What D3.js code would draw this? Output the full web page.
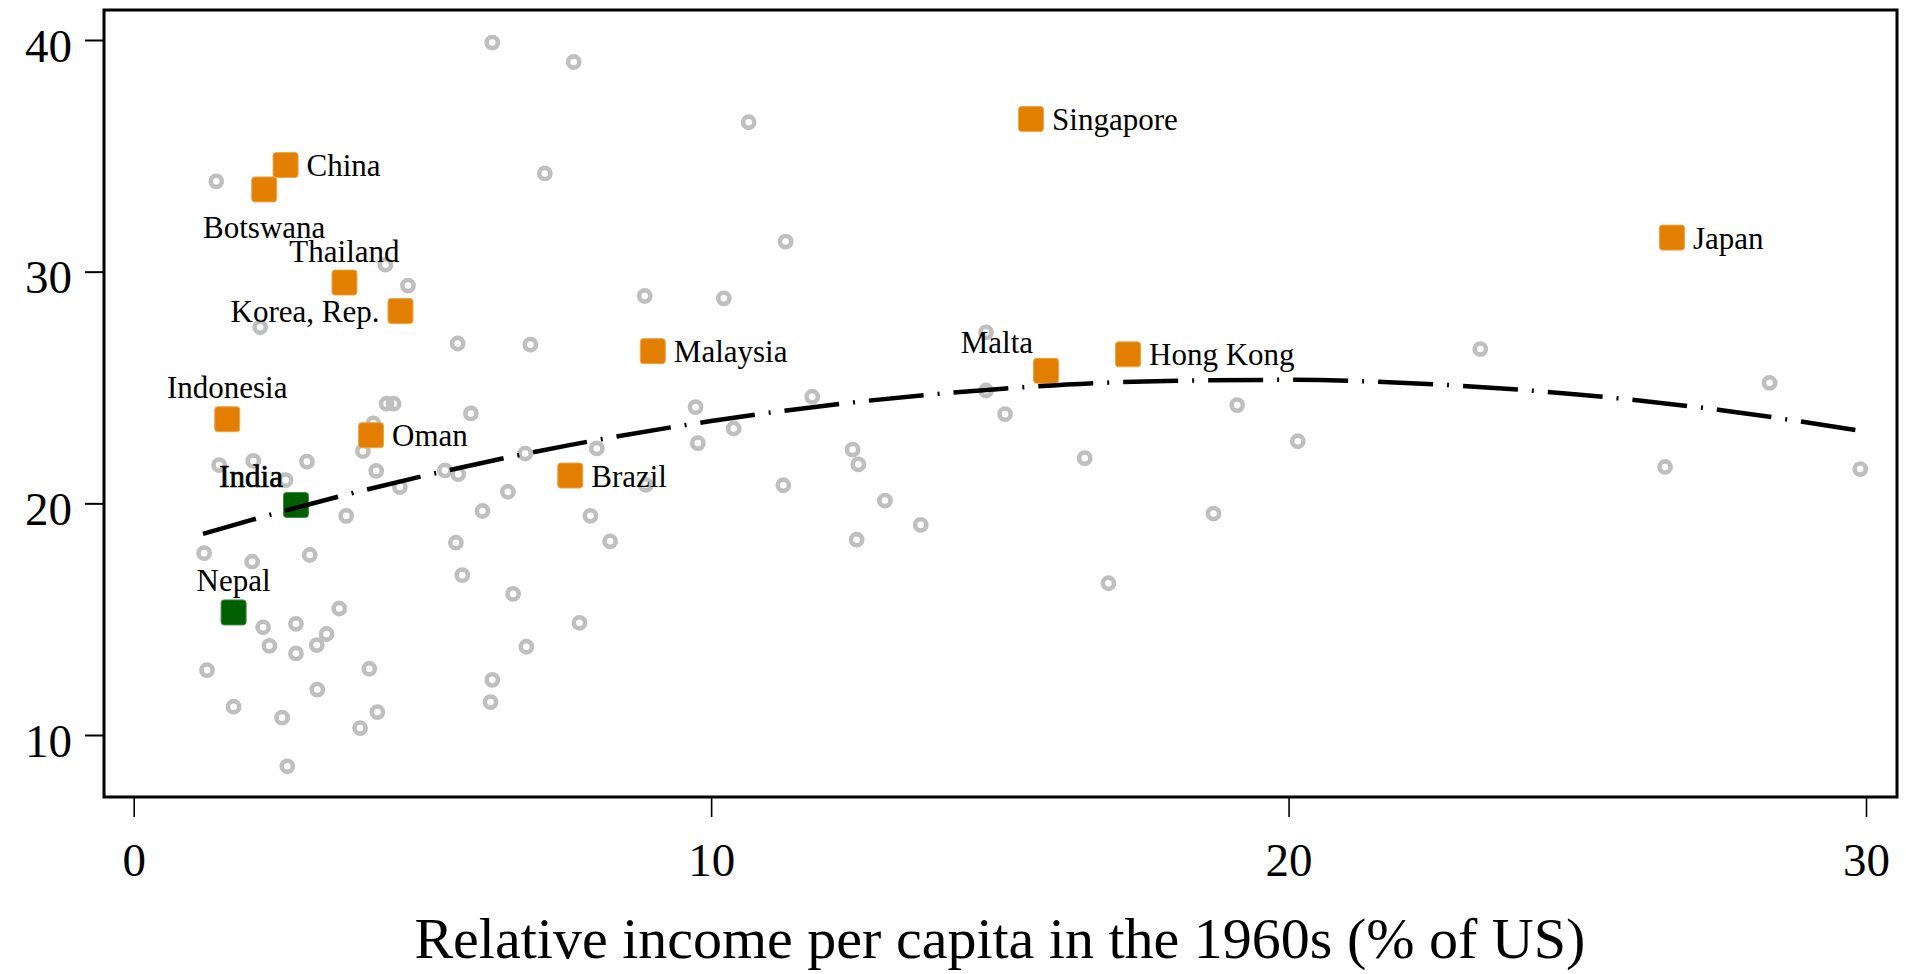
<!DOCTYPE html>
<html>
<head>
<meta charset="utf-8">
<script src="https://cdn.jsdelivr.net/npm/d3@7"></script>
<style>
  body { margin: 0; background: #fff; }
  svg { display: block; font-family: "Liberation Serif", "DejaVu Serif", serif; }
</style>
</head>
<body>
<svg id="chart" width="1906" height="974"></svg>
<script>
// other countries (grey rings)
var grayX = [6.21, 7.62, 1.43, 7.12, 4.36, 4.75, 2.19, 5.61, 6.87, 8.85,
             4.38, 4.5, 5.84, 4.15, 3.97, 1.48, 2.07, 3.0, 2.63, 4.2,
             5.39, 5.62, 4.61, 6.78, 8.02, 6.48, 3.68, 6.04, 7.91, 5.58,
             8.25, 1.22, 2.05, 3.05, 5.69, 6.57, 3.56, 7.72, 2.24, 2.81,
             3.34, 3.17, 2.35, 2.81, 6.8, 1.27, 4.08, 6.21, 3.18, 6.18,
             1.73, 4.22, 2.57, 3.92, 2.66, 10.65, 11.29, 10.22, 14.76, 9.73,
             11.75, 14.76, 15.09, 19.11, 10.39, 9.77, 12.45, 12.55, 16.47, 11.25,
             13.01, 13.63, 12.52, 18.7, 16.88, 8.87, 23.32, 28.33, 20.16, 26.52,
             29.9];
var grayY = [39.89, 39.05, 33.9, 34.24, 30.3, 29.4, 27.6, 26.9, 26.85, 28.95,
             24.3, 24.3, 23.88, 23.45, 22.25, 21.65, 21.83, 21.8, 21.0, 21.4,
             21.42, 21.26, 20.7, 22.15, 22.37, 20.5, 19.46, 19.67, 19.46, 18.3,
             18.36, 17.85, 17.48, 17.77, 16.9, 16.09, 15.46, 14.84, 14.65, 14.8,
             14.36, 13.88, 13.85, 13.52, 13.81, 12.8, 12.86, 12.38, 11.96, 11.42,
             11.22, 10.99, 10.75, 10.3, 8.65, 36.45, 31.3, 28.85, 27.38, 24.15,
             24.6, 24.87, 23.85, 24.24, 23.23, 22.6, 22.32, 21.68, 21.95, 20.78,
             20.12, 19.07, 18.43, 19.56, 16.55, 20.8, 26.66, 25.2, 22.68, 21.57,
             21.48];

// highlighted fast growers (orange)
var hiNames = ["China", "Botswana", "Thailand", "Korea, Rep.", "Indonesia", "Oman",
               "Malaysia", "Brazil", "Singapore", "Malta", "Hong Kong", "Japan"];
var hiX = [2.63, 2.26, 3.65, 4.62, 1.62, 4.11, 8.99, 7.56, 15.54, 15.8, 17.22, 26.64];
var hiY = [34.6, 33.55, 29.53, 28.3, 23.63, 22.94, 26.57, 21.2, 36.59, 25.72, 26.43, 31.47];
var hiPos = [3, 6, 12, 9, 12, 3, 3, 3, 3, 11, 3, 3];

// South Asia (green)
var grNames = ["India", "Nepal"];
var grX = [2.81, 1.73];
var grY = [19.93, 15.29];
var grPos = [11, 12];

// quadratic fit line
var fitX = [1.2, 2.5, 5, 7.5, 10, 12.5, 15, 17.5, 20, 22.5, 25, 27.5, 29.9];
var fitY = [18.68, 19.60, 21.17, 22.49, 23.55, 24.37, 24.94, 25.26, 25.33, 25.14, 24.70, 24.02, 23.13];

var xTicks = [0, 10, 20, 30];
var yTicks = [10, 20, 30, 40];
var xTitle = "Relative income per capita in the 1960s (% of US)";

var svg = d3.select("#chart");
var L = 104, R = 1897, T = 10, B = 797;

var x = d3.scaleLinear().domain([0, 30]).range([133.7, 1866]);
var y = d3.scaleLinear().domain([10, 40]).range([735, 40]);

svg.append("rect").attr("width", 1906).attr("height", 974).attr("fill", "#fff");

// axes
var xAxis = svg.append("g")
    .attr("transform", "translate(0," + B + ")")
    .call(d3.axisBottom(x).tickValues(xTicks).tickSize(20).tickFormat(d3.format("d")));
xAxis.select(".domain").remove();
xAxis.selectAll("line").attr("stroke", "#000").attr("stroke-width", 1.6);
xAxis.selectAll("text")
    .attr("y", 63).attr("dy", "0.35em")
    .attr("font-size", 47).attr("fill", "#000")
    .attr("font-family", "Liberation Serif, serif");

var yAxis = svg.append("g")
    .attr("transform", "translate(" + L + ",0)")
    .call(d3.axisLeft(y).tickValues(yTicks).tickSize(19).tickPadding(13).tickFormat(d3.format("d")));
yAxis.select(".domain").remove();
yAxis.selectAll("line").attr("stroke", "#000").attr("stroke-width", 2);
yAxis.selectAll("text")
    .attr("dy", "0.45em")
    .attr("font-size", 47).attr("fill", "#000")
    .attr("font-family", "Liberation Serif, serif");

// frame
svg.append("rect")
    .attr("x", L).attr("y", T)
    .attr("width", R - L).attr("height", B - T)
    .attr("fill", "none").attr("stroke", "#000").attr("stroke-width", 3);

// grey rings
svg.append("g").selectAll("circle")
    .data(grayX)
    .join("circle")
    .attr("cx", function(d) { return x(d); })
    .attr("cy", function(d, i) { return y(grayY[i]); })
    .attr("r", 5.6)
    .attr("fill", "none")
    .attr("stroke", "#bfbfbf")
    .attr("stroke-width", 4.6);

// squares
function squares(xs, ys, fill, edge) {
  svg.append("g").selectAll("rect")
      .data(xs)
      .join("rect")
      .attr("x", function(d) { return x(d) - 12.5; })
      .attr("y", function(d, i) { return y(ys[i]) - 12.5; })
      .attr("width", 25).attr("height", 25)
      .attr("rx", 3)
      .attr("fill", fill)
      .attr("stroke", edge)
      .attr("stroke-width", 1);
}
squares(hiX, hiY, "#e37f00", "#f0a54a");
squares(grX, grY, "#005f00", "#3f8a3f");

// fit line
var line = d3.line()
    .x(function(d) { return x(d); })
    .y(function(d, i) { return y(fitY[i]); })
    .curve(d3.curveMonotoneX);
svg.append("path")
    .attr("d", line(fitX))
    .attr("fill", "none")
    .attr("stroke", "#000")
    .attr("stroke-width", 4.5)
    .attr("stroke-dasharray", "55,14,2,14");

// labels, placed by clock position like stata's mlabposition
function labels(names, xs, ys, pos, bold) {
  names.forEach(function(n, i) {
    var px = x(xs[i]), py = y(ys[i]);
    var t = svg.append("text")
        .attr("font-size", 31)
        .attr("fill", "#000")
        .text(n);
    if (pos[i] == 3) t.attr("x", px + 21).attr("y", py + 11);
    else if (pos[i] == 9) t.attr("x", px - 21).attr("y", py + 11).attr("text-anchor", "end");
    else if (pos[i] == 12) t.attr("x", px).attr("y", py - 21).attr("text-anchor", "middle");
    else if (pos[i] == 6) t.attr("x", px).attr("y", py + 49).attr("text-anchor", "middle");
    else if (pos[i] == 11) t.attr("x", px - 13).attr("y", py - 18).attr("text-anchor", "end");
    if (bold && n == "India") t.attr("stroke", "#000").attr("stroke-width", 0.7);
  });
}
labels(hiNames, hiX, hiY, hiPos, false);
labels(grNames, grX, grY, grPos, true);

// x title
svg.append("text")
    .attr("x", (x(0) + x(30)) / 2)
    .attr("y", 958)
    .attr("text-anchor", "middle")
    .attr("font-size", 58)
    .attr("fill", "#000")
    .text(xTitle);
</script>
</body>
</html>
